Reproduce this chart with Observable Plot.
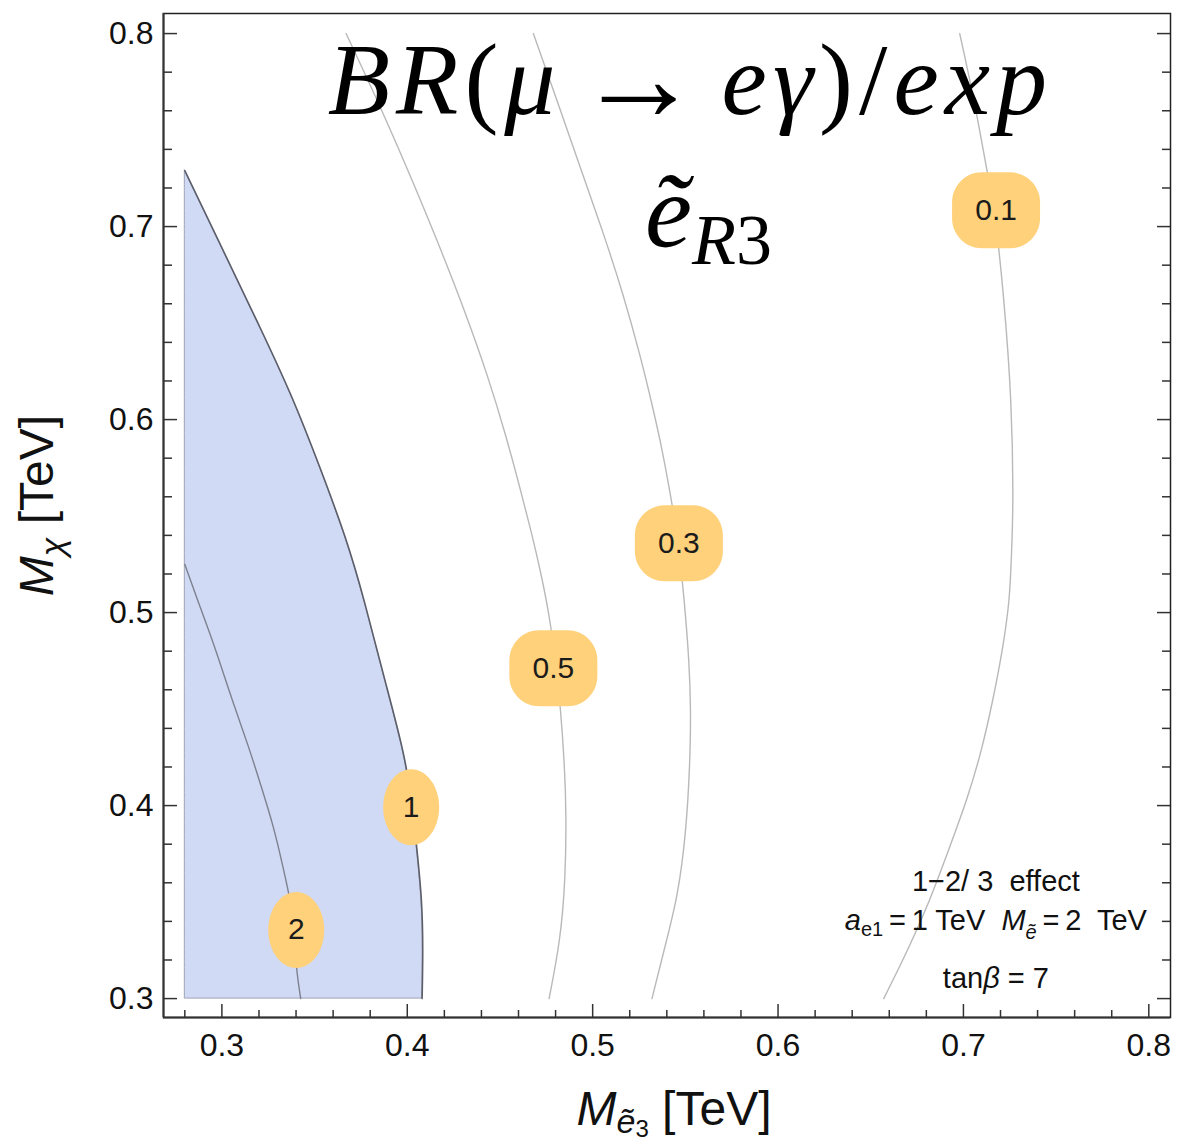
<!DOCTYPE html>
<html>
<head>
<meta charset="utf-8">
<script src="https://cdn.jsdelivr.net/npm/d3@7"></script>
<script src="https://cdn.jsdelivr.net/npm/@observablehq/plot@0.6"></script>
<style>
  html, body { margin: 0; padding: 0; background: #fff; }
  #chart svg { display: block; }
</style>
</head>
<body>
<div id="chart"></div>
<script>
// Contours of BR(mu -> e gamma) / experimental bound in the (M_e3, M_chi) plane, TeV.
const contour01 = [[0.698,0.800],[0.706,0.765],[0.713,0.727],[0.717,0.708],[0.722,0.662],[0.726,0.610],[0.727,0.558],[0.726,0.532],[0.725,0.506],[0.721,0.480],[0.716,0.455],[0.710,0.429],[0.702,0.403],[0.692,0.377],[0.682,0.351],[0.670,0.325],[0.657,0.300]];
const contour03 = [[0.468,0.800],[0.482,0.762],[0.495,0.726],[0.506,0.696],[0.5165,0.665],[0.526,0.632],[0.532,0.608],[0.5365,0.589],[0.5405,0.569],[0.5445,0.547],[0.5475,0.525],[0.550,0.500],[0.552,0.475],[0.553,0.450],[0.5525,0.422],[0.5505,0.387],[0.546,0.353],[0.539,0.327],[0.532,0.300]];
const contour05 = [[0.367,0.800],[0.387,0.759],[0.404,0.721],[0.419,0.686],[0.4315,0.655],[0.443,0.624],[0.4535,0.591],[0.462,0.560],[0.4667,0.5426],[0.4718,0.5218],[0.4765,0.4995],[0.480,0.475],[0.4825,0.4528],[0.4848,0.4218],[0.4858,0.3959],[0.4853,0.3613],[0.4826,0.3302],[0.4765,0.300]];
const contour1 = [[0.280,0.729],[0.3025,0.684],[0.3205,0.648],[0.3385,0.611],[0.353,0.575],[0.367,0.539],[0.377,0.506],[0.387,0.468],[0.398,0.429],[0.4025,0.403],[0.405,0.379],[0.408,0.351],[0.4085,0.325],[0.408,0.300]];
const contour2 = [[0.280,0.525],[0.287,0.506],[0.296,0.483],[0.305,0.456],[0.315,0.429],[0.3205,0.412],[0.328,0.389],[0.333,0.368],[0.337,0.351],[0.339,0.335],[0.340,0.316],[0.3425,0.300]];

// Contour labels and where they sit on their curves
const labelText = ["0.1", "0.3", "0.5", "1", "2"];
const labelX = [0.7176, 0.5465, 0.4788, 0.4021, 0.3401];
const labelY = [0.7084, 0.5359, 0.4711, 0.3991, 0.3356];

// Scan range and axes
const xScanMin = 0.28;
const xDomain = [0.2685, 0.8117];
const yDomain = [0.2902, 0.8104];
const xTickValues = [0.3, 0.4, 0.5, 0.6, 0.7, 0.8];
const xTickLabels = ["0.3", "0.4", "0.5", "0.6", "0.7", "0.8"];
const yTickValues = [0.3, 0.4, 0.5, 0.6, 0.7, 0.8];
const yTickLabels = ["0.3", "0.4", "0.5", "0.6", "0.7", "0.8"];
const xMinorTicks = [0.28, 0.32, 0.34, 0.36, 0.38, 0.42, 0.44, 0.46, 0.48, 0.52, 0.54, 0.56, 0.58, 0.62, 0.64, 0.66, 0.68, 0.72, 0.74, 0.76, 0.78];
const yMinorTicks = [0.32, 0.34, 0.36, 0.38, 0.42, 0.44, 0.46, 0.48, 0.52, 0.54, 0.56, 0.58, 0.62, 0.64, 0.66, 0.68, 0.72, 0.74, 0.76, 0.78];

// Texts
const titleText = "BR(\u03bc \u2192 e\u03b3)/exp";
const subtitleText = "\u1ebdR3";
const xLabelText = "M\u1ebd3 [TeV]";
const yLabelText = "M\u03c7 [TeV]";
const noteText = ["1\u22122/ 3  effect", "ae1 = 1 TeV  M\u1ebd = 2  TeV", "tan\u03b2 = 7"];
const noteY = [0.3608, 0.3401, 0.3105];

// Layout
const W = 1179, H = 1145;
const ML = 163, MR = 9, MT = 13, MB = 128;
const FW = W - ML - MR, FH = H - MT - MB;
const serif = "'Liberation Serif', 'Times New Roman', serif";

const rows = (level, pts) => pts.map(([x, y]) => ({level, x, y}));
const lightRows = [...rows("0.1", contour01), ...rows("0.3", contour03), ...rows("0.5", contour05)];

// Rounded box (ellipse when narrow) used as the contour-label badge
function badge(w, h, r) {
  const rx = Math.min(r, w / 2), ry = Math.min(r, h / 2), k = 0.5523;
  return {
    draw(ctx) {
      const x0 = -w / 2, x1 = w / 2, y0 = -h / 2, y1 = h / 2;
      ctx.moveTo(x0 + rx, y0);
      ctx.lineTo(x1 - rx, y0);
      ctx.bezierCurveTo(x1 - rx + k * rx, y0, x1, y0 + ry - k * ry, x1, y0 + ry);
      ctx.lineTo(x1, y1 - ry);
      ctx.bezierCurveTo(x1, y1 - ry + k * ry, x1 - rx + k * rx, y1, x1 - rx, y1);
      ctx.lineTo(x0 + rx, y1);
      ctx.bezierCurveTo(x0 + rx - k * rx, y1, x0, y1 - ry + k * ry, x0, y1 - ry);
      ctx.lineTo(x0, y0 + ry);
      ctx.bezierCurveTo(x0, y0 + ry - k * ry, x0 + rx - k * rx, y0, x0 + rx, y0);
      ctx.closePath();
    }
  };
}

const badgeMarks = labelText.map((t, i) => Plot.dot([i], {
  x: j => labelX[j], y: j => labelY[j], r: 10,
  symbol: t.length === 1 ? badge(56, 76, 38) : badge(88, 76, 30),
  fill: "#fed17a", stroke: "none"
}));

const tick = {stroke: "#333", strokeWidth: 1.5};

const svg = Plot.plot({
  width: W, height: H,
  marginLeft: ML, marginRight: MR, marginTop: MT, marginBottom: MB,
  x: {domain: xDomain, axis: null},
  y: {domain: yDomain, axis: null},
  style: {fontFamily: "'Liberation Sans', Arial, sans-serif", background: "#fff", color: "#111"},
  marks: [
    // region excluded by the bound (ratio above 1)
    Plot.areaX(contour1, {y: d => d[1], x1: () => xScanMin, x2: d => d[0], curve: "basis",
      fill: "#d0daf5", stroke: "#9ea3b3", strokeWidth: 1}),
    Plot.line(lightRows, {x: "x", y: "y", z: "level", curve: "basis", stroke: "#b9b9b9", strokeWidth: 1.4}),
    Plot.line(contour2, {x: d => d[0], y: d => d[1], curve: "basis", stroke: "#7d8190", strokeWidth: 1.4}),
    Plot.line(contour1, {x: d => d[0], y: d => d[1], curve: "basis", stroke: "#5c5f6b", strokeWidth: 1.6}),
    ...badgeMarks,
    Plot.text(labelText, {x: (d, i) => labelX[i], y: (d, i) => labelY[i], text: d => d,
      fontSize: 30, fill: "#1b1b1b"}),

    // ticks: inward on left, right and bottom
    Plot.tickY(yTickValues, {y: d => d, insetRight: FW - 14, ...tick}),
    Plot.tickY(yMinorTicks, {y: d => d, insetRight: FW - 9, ...tick}),
    Plot.tickY(yTickValues, {y: d => d, insetLeft: FW - 13, ...tick}),
    Plot.tickY(yMinorTicks, {y: d => d, insetLeft: FW - 8, ...tick}),
    Plot.tickX(xTickValues, {x: d => d, insetTop: FH - 13, ...tick}),
    Plot.tickX(xMinorTicks, {x: d => d, insetTop: FH - 7, ...tick}),
    Plot.frame({stroke: "#222", strokeWidth: 1.5}),
    Plot.ruleX([xDomain[0]], {stroke: "#333", strokeWidth: 2}),
    Plot.ruleY([yDomain[0]], {stroke: "#333", strokeWidth: 2}),

    // tick labels
    Plot.text(yTickValues, {y: d => d, text: (d, i) => yTickLabels[i], frameAnchor: "left", dx: -10,
      textAnchor: "end", lineAnchor: "middle", fontSize: 32, fill: "#111"}),
    Plot.text(xTickValues, {x: d => d, text: (d, i) => xTickLabels[i], frameAnchor: "bottom", dy: 28,
      textAnchor: "middle", lineAnchor: "middle", fontSize: 32, fill: "#111"}),

    // axis titles
    Plot.text([yLabelText], {text: d => d, frameAnchor: "left", dx: -126, dy: -10, rotate: -90,
      textAnchor: "middle", lineAnchor: "middle", fontSize: 48, fill: "#111"}),
    Plot.text([xLabelText], {text: d => d, frameAnchor: "bottom", dx: 7, dy: 92,
      textAnchor: "middle", lineAnchor: "middle", fontSize: 48, fill: "#111"}),

    // headline
    Plot.text([titleText], {text: d => d, x: () => 0.5527, y: () => 0.7752,
      textAnchor: "middle", lineAnchor: "middle", fontSize: 102, fontFamily: serif, fill: "#000"}),
    Plot.text([subtitleText], {text: d => d, x: () => 0.5625, y: () => 0.7069,
      textAnchor: "middle", lineAnchor: "middle", fontSize: 106, fontFamily: serif, fill: "#000"}),

    // parameter note
    Plot.text(noteText, {text: d => d, x: () => 0.7175, y: (d, i) => noteY[i],
      textAnchor: "middle", lineAnchor: "middle", fontSize: 29, fill: "#111"})
  ]
});

document.getElementById("chart").appendChild(svg);

// Rebuild selected labels with italics and sub/superscripts
const NS = "http://www.w3.org/2000/svg";
function rich(original, parts, letterSpacing) {
  const t = [...svg.querySelectorAll("text")].find(e => e.textContent === original);
  if (!t) return;
  while (t.firstChild) t.removeChild(t.firstChild);
  t.setAttribute("xml:space", "preserve");
  t.style.whiteSpace = "pre";
  if (letterSpacing) t.style.letterSpacing = letterSpacing;
  let shift = 0;
  for (const p of parts) {
    const s = document.createElementNS(NS, "tspan");
    s.textContent = p.t;
    s.setAttribute("font-style", p.i ? "italic" : "normal");
    if (p.size) s.setAttribute("font-size", p.size);
    const target = p.shift || 0;
    if (target !== shift) { s.setAttribute("dy", target - shift); shift = target; }
    t.appendChild(s);
  }
}

rich(yLabelText, [{t: "M", i: true}, {t: "\u03c7", i: true, size: 34, shift: 11}, {t: " [TeV]"}]);
rich(xLabelText, [{t: "M", i: true}, {t: "\u1ebd", i: true, size: 34, shift: 8}, {t: "3", size: 24, shift: 12}, {t: " [TeV]"}]);
rich(titleText, [{t: "BR", i: true}, {t: "("}, {t: "\u03bc", i: true}, {t: "\u200a"},
  {t: "\u2192", size: 125, shift: 6}, {t: "\u200a"}, {t: "e\u03b3", i: true}, {t: ")/"}, {t: "exp", i: true}], "6px");
rich(subtitleText, [{t: "\u1ebd", i: true}, {t: "R", i: true, size: 72, shift: 17}, {t: "3", size: 72, shift: 17}]);
rich(noteText[0], [{t: "1\u22122/ 3  effect"}]);
rich(noteText[1], [{t: "a", i: true}, {t: "e1", size: 20, shift: 6}, {t: "\u2009=\u20091 TeV  "}, {t: "M", i: true}, {t: "\u1ebd", i: true, size: 20, shift: 9}, {t: "\u2009=\u20092  TeV"}]);
rich(noteText[2], [{t: "tan"}, {t: "\u03b2", i: true}, {t: " = 7"}]);
</script>
</body>
</html>
